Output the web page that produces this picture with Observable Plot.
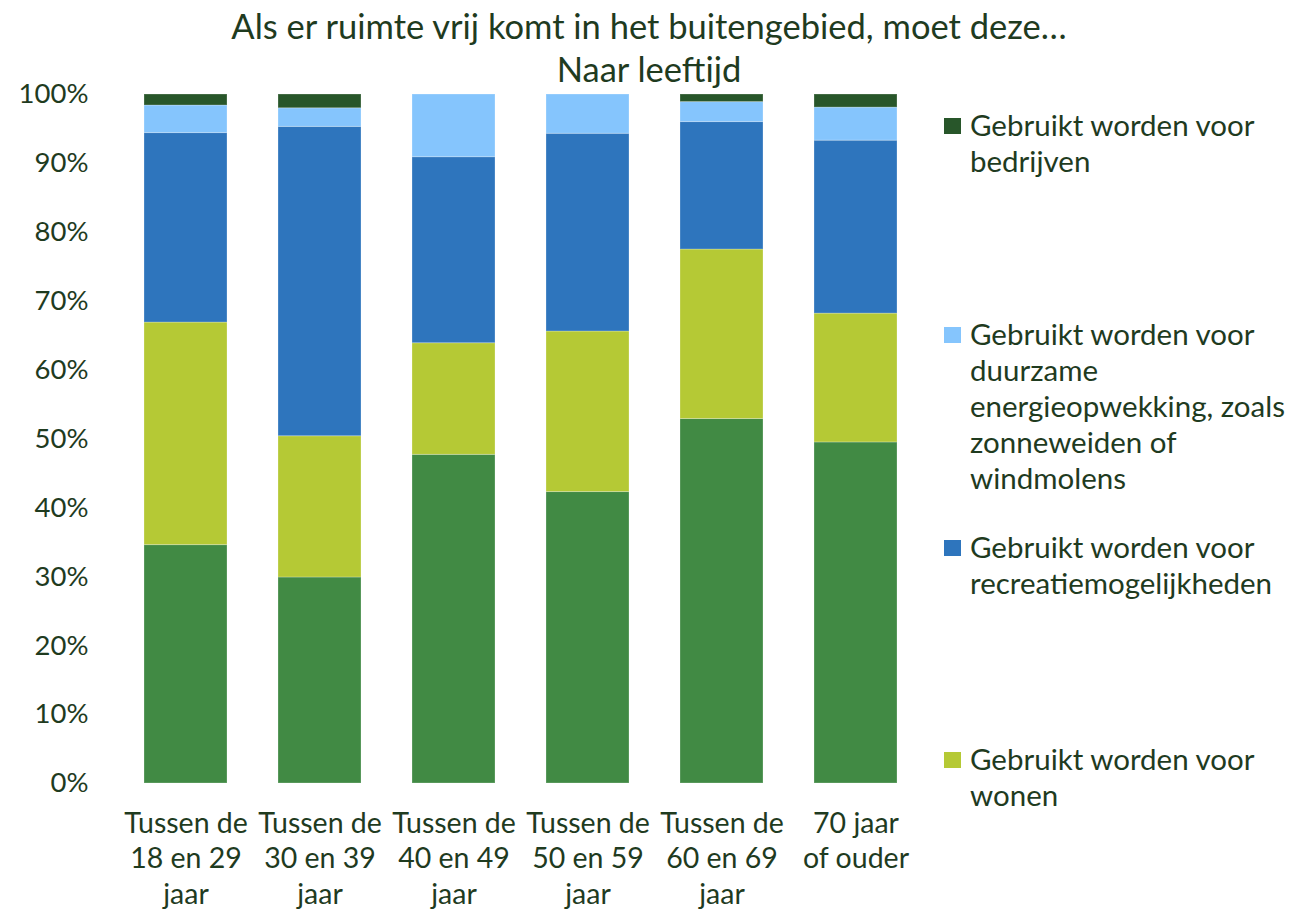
<!DOCTYPE html>
<html>
<head>
<meta charset="utf-8">
<script src="https://cdn.jsdelivr.net/npm/d3@7"></script>
<script src="https://cdn.jsdelivr.net/npm/@observablehq/plot@0.6"></script>
<style>
  html, body { margin: 0; padding: 0; background: #fff; }
  #wrap { position: relative; width: 1293px; height: 917px; font-family: Lato, "Open Sans", sans-serif; color: #1f3b1f; overflow: hidden; }
  #title { position: absolute; left: 0; width: 1298px; top: 4px; text-align: center; font-size: 34.5px; line-height: 43px; }
  #legend { position: absolute; left: 944px; top: 0; }
  .item { position: absolute; left: 0; width: 349px; font-size: 29.5px; line-height: 36px; padding-left: 26px; white-space: nowrap; }
  .sw { position: absolute; left: 0; top: 11px; width: 17px; height: 16px; }
  #chart { position: absolute; left: 0; top: 0; }
</style>
</head>
<body>
<div id="wrap">
  <div id="chart"></div>
  <div id="title">Als er ruimte vrij komt in het buitengebied, moet deze…<br>Naar leeftijd</div>
  <div id="legend"></div>
</div>
<script>
const categories = [
  "Tussen de\n18 en 29\njaar",
  "Tussen de\n30 en 39\njaar",
  "Tussen de\n40 en 49\njaar",
  "Tussen de\n50 en 59\njaar",
  "Tussen de\n60 en 69\njaar",
  "70 jaar\nof ouder"
];
// stacked bottom to top
const seriesNames = [
  "Overig (niet in legenda)",
  "Gebruikt worden voor wonen",
  "Gebruikt worden voor recreatiemogelijkheden",
  "Gebruikt worden voor duurzame energieopwekking, zoals zonneweiden of windmolens",
  "Gebruikt worden voor bedrijven"
];
const overig     = [34.6, 29.9, 47.7, 42.3, 52.9, 49.5];
const wonen      = [32.3, 20.5, 16.2, 23.3, 24.6, 18.7];
const recreatie  = [27.5, 44.9, 27.0, 28.7, 18.5, 25.1];
const duurzaam   = [4.0, 2.7, 9.1, 5.7, 2.9, 4.8];
const bedrijven  = [1.6, 2.0, 0.0, 0.0, 1.1, 1.9];
const yTicks = [0, 0.1, 0.2, 0.3, 0.4, 0.5, 0.6, 0.7, 0.8, 0.9, 1.0];

const colors = ["#418a44", "#b5c935", "#2e75bd", "#85c5fd", "#28562a"];
const seriesValues = [overig, wonen, recreatie, duurzaam, bedrijven];

const data = [];
seriesValues.forEach((vals, si) => {
  vals.forEach((v, ci) => data.push({cat: categories[ci], series: seriesNames[si], order: si, value: v / 100}));
});

const textColor = "#1f3b1f";
const chart = Plot.plot({
  width: 1293,
  height: 917,
  marginTop: 94,
  marginBottom: 134,
  marginLeft: 118,
  marginRight: 370,
  style: { fontFamily: "Lato, 'Open Sans', sans-serif", color: textColor, background: "transparent" },
  x: { domain: categories, paddingInner: 0.38, paddingOuter: 0.19, label: null },
  y: { domain: [0, 1], label: null },
  color: { domain: seriesNames, range: colors },
  marks: [
    Plot.gridY(yTicks, { stroke: "#d5ead5", strokeOpacity: 1, strokeWidth: 2, x1: 118, x2: 925 }),
    Plot.barY(data, Plot.stackY({
      x: "cat", y: "value", fill: "series", order: seriesNames,
      stroke: "#ffffff", strokeOpacity: 0.25, strokeWidth: 1
    })),
    Plot.axisY(yTicks, { tickFormat: d => Math.round(d * 100) + "%", tickSize: 0, tickPadding: 30, fontSize: 27.5, fill: textColor }),
    Plot.axisX({ tickSize: 0, tickPadding: 24, fontSize: 28.5, lineHeight: 1.25, fill: textColor })
  ]
});
document.getElementById("chart").appendChild(chart);

// legend (top to bottom as in reference)
const legendEntries = [
  { name: "Gebruikt worden voor<br>bedrijven", color: colors[4], top: 107 },
  { name: "Gebruikt worden voor<br>duurzame<br>energieopwekking, zoals<br>zonneweiden of<br>windmolens", color: colors[3], top: 316 },
  { name: "Gebruikt worden voor<br>recreatiemogelijkheden", color: colors[2], top: 529 },
  { name: "Gebruikt worden voor<br>wonen", color: colors[1], top: 741 }
];
const leg = document.getElementById("legend");
legendEntries.forEach(e => {
  const d = document.createElement("div");
  d.className = "item";
  d.style.top = e.top + "px";
  d.innerHTML = `<span class="sw" style="background:${e.color}"></span>${e.name}`;
  leg.appendChild(d);
});
</script>
</body>
</html>
